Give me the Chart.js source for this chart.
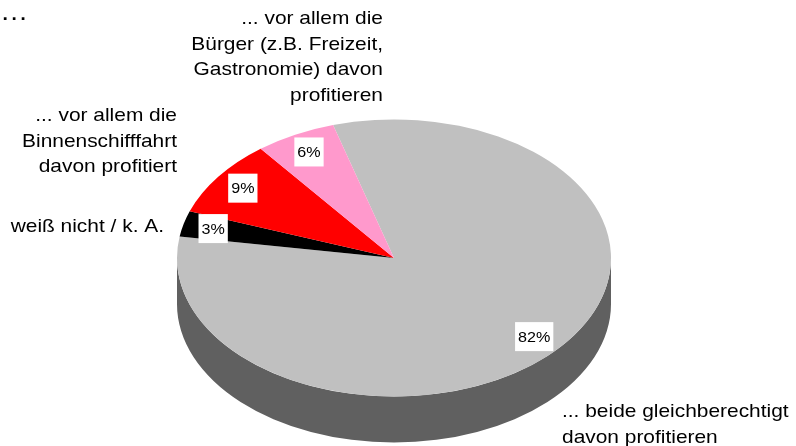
<!DOCTYPE html>
<html>
<head>
<meta charset="utf-8">
<script src="https://cdn.jsdelivr.net/npm/chart.js@4/dist/chart.umd.min.js"></script>
<style>
  html, body { margin: 0; padding: 0; background: #fff; }
  #wrap { width: 796px; height: 446px; }
</style>
</head>
<body>
<div id="wrap"><canvas id="chart" width="796" height="446"></canvas></div>
<script>
// answer categories (multi-line as in the original labels)
const categories = [
  ['... beide gleichberechtigt', 'davon profitieren'],
  ['weiß nicht / k. A.'],
  ['... vor allem die', 'Binnenschifffahrt', 'davon profitiert'],
  ['... vor allem die', 'Bürger (z.B. Freizeit,', 'Gastronomie) davon', 'profitieren'],
];
const shares = [82, 3, 9, 6];
const topColors = ['#c0c0c0', '#000000', '#ff0000', '#ff99cc'];
const sideColors = ['#606060', '#000000', '#800000', '#99607a'];
const startAngle = -16.3;

// where the tilted pie sits on the page
const PIE = { cx: 394, cy: 258, rx: 217, ry: 138.5, depth: 46 };
// anchors of the category texts: x, y of first line, alignment
const labelAnchors = [
  { x: 562, y: 412, align: 'left' },
  { x: 164, y: 227, align: 'right' },
  { x: 177, y: 116, align: 'right' },
  { x: 383, y: 19, align: 'right' },
];
const FONT = '"Liberation Sans", Arial, sans-serif';
const STRETCH = 1.13;   // text in the source is slightly wide

function stretchedText(ctx, text, x, y, align, s = STRETCH) {
  ctx.save();
  ctx.translate(x, y);
  ctx.scale(s, 1);
  ctx.textAlign = align;
  ctx.fillText(text, 0, 0);
  ctx.restore();
}

const pie3d = {
  id: 'pie3d',
  beforeDatasetsDraw(chart) {
    const ctx = chart.ctx;
    const arcs = chart.getDatasetMeta(0).data;
    const { cx, cy, rx, ry, depth } = PIE;

    // front wall: only the part of each slice facing the viewer (0..PI)
    arcs.forEach((arc, i) => {
      for (let k = -1; k <= 1; k++) {
        const lo = Math.max(arc.startAngle, k * 2 * Math.PI);
        const hi = Math.min(arc.endAngle, k * 2 * Math.PI + Math.PI);
        if (hi <= lo) continue;
        ctx.beginPath();
        ctx.ellipse(cx, cy, rx, ry, 0, lo, hi);
        ctx.ellipse(cx, cy + depth, rx, ry, 0, hi, lo, true);
        ctx.closePath();
        ctx.fillStyle = sideColors[i];
        ctx.fill();
      }
    });

    // squash the flat pie into the top face
    const { x, y, outerRadius } = arcs[0];
    ctx.save();
    ctx.translate(cx, cy);
    ctx.scale(rx / outerRadius, ry / outerRadius);
    ctx.translate(-x, -y);
  },
  afterDatasetsDraw(chart) {
    const ctx = chart.ctx;
    ctx.restore();
    const arcs = chart.getDatasetMeta(0).data;
    const total = shares.reduce((a, b) => a + b, 0);
    const { cx, cy, rx, ry } = PIE;

    // percentage boxes
    ctx.font = '15.5px ' + FONT;
    ctx.textBaseline = 'middle';
    arcs.forEach((arc, i) => {
      const mid = (arc.startAngle + arc.endAngle) / 2;
      const px = cx + Math.cos(mid) * rx * 0.86;
      const py = cy + Math.sin(mid) * ry * 0.86;
      const txt = Math.round(shares[i] / total * 100) + '%';
      const w = ctx.measureText(txt).width * 1.04 + 6;
      ctx.fillStyle = '#ffffff';
      ctx.fillRect(px - w / 2, py - 14.5, w, 29);
      ctx.fillStyle = '#000000';
      stretchedText(ctx, txt, px, py + 1, 'center', 1.04);
    });

    // category texts
    ctx.font = '18.5px ' + FONT;
    ctx.fillStyle = '#000000';
    categories.forEach((lines, i) => {
      const a = labelAnchors[i];
      lines.forEach((line, j) => stretchedText(ctx, line, a.x, a.y + j * 25.5, a.align));
    });

    // truncated title
    ctx.font = '25px ' + FONT;
    ctx.textBaseline = 'alphabetic';
    stretchedText(ctx, '…', 0, 20, 'left');
  }
};

new Chart(document.getElementById('chart'), {
  type: 'pie',
  data: {
    labels: categories,
    datasets: [{
      data: shares,
      backgroundColor: topColors,
      borderWidth: 0,
      clip: false,
    }]
  },
  options: {
    responsive: false,
    animation: false,
    rotation: startAngle,
    plugins: {
      legend: { display: false },
      tooltip: { enabled: false },
      title: { display: false },
    },
  },
  plugins: [pie3d],
});
</script>
</body>
</html>
